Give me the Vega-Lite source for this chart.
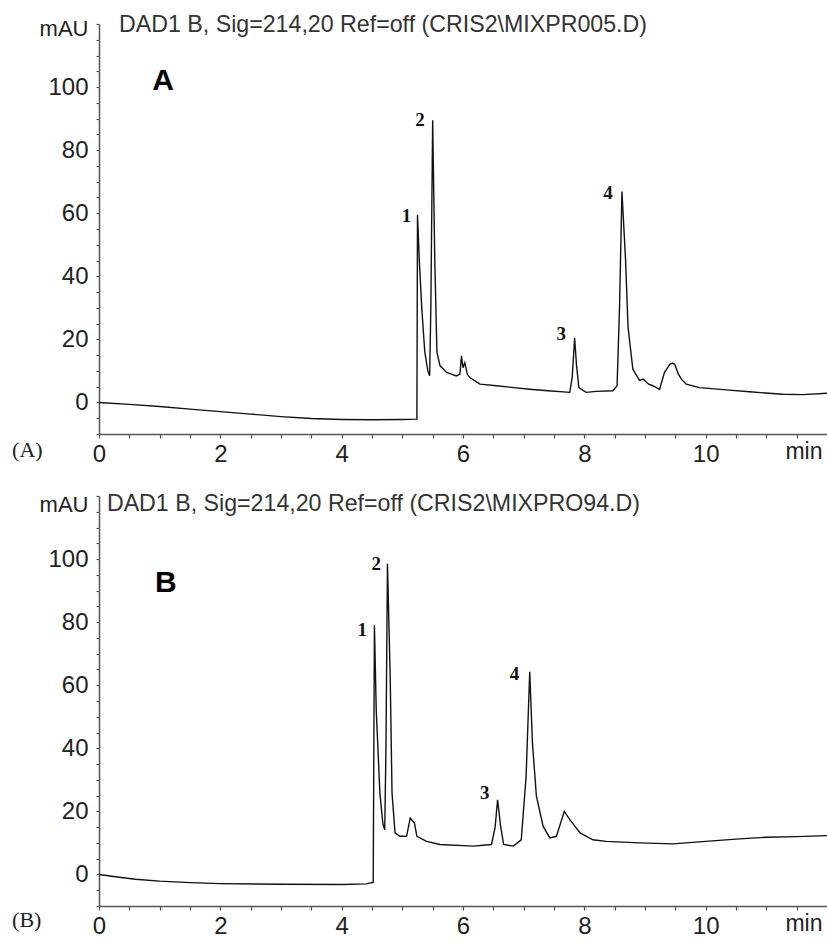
{
  "$schema": "https://vega.github.io/schema/vega-lite/v6.json",
  "padding": {"left": 12, "top": 12, "right": 0, "bottom": 0},
  "background": "white",
  "config": {
    "view": {"stroke": null},
    "font": "Liberation Sans",
    "axis": {
      "grid": false,
      "domainColor": "#555",
      "domainWidth": 1.5,
      "tickColor": "#555",
      "tickWidth": 1.2,
      "tickSize": 3,
      "labelFont": "Liberation Sans",
      "labelFontSize": 24,
      "labelColor": "#222",
      "labelOverlap": false,
      "labelFlush": false,
      "titleFont": "Liberation Sans",
      "titleFontSize": 22,
      "titleFontWeight": "normal",
      "titleColor": "#222"
    }
  },
  "vconcat": [
    {
      "width": 728,
      "height": 410,
      "encoding": {
        "x": {"field": "t", "type": "quantitative",
          "scale": {"domain": [0, 12], "nice": false, "zero": false},
          "axis": {
            "values": [0,0.5,1,1.5,2,2.5,3,3.5,4,4.5,5,5.5,6,6.5,7,7.5,8,8.5,9,9.5,10,10.5,11,11.5,12],
            "labelExpr": "indexof([0,2,4,6,8,10], datum.value) >= 0 ? format(datum.value, 'd') : ''",
            "tickSize": 4, "labelPadding": 4, "labelBaseline": "top",
            "title": "min", "titleX": 723, "titleY": 17, "titleAlign": "right", "titleBaseline": "middle", "titleFontSize": 23
          }
        },
        "y": {"field": "v", "type": "quantitative",
          "scale": {"domain": [-10, 120], "nice": false, "zero": false},
          "axis": {
            "values": [-10,-5,0,5,10,15,20,25,30,35,40,45,50,55,60,65,70,75,80,85,90,95,100,105,110,115,120],
            "labelExpr": "indexof([0,20,40,60,80,100], datum.value) >= 0 ? format(datum.value, 'd') : ''",
            "labelPadding": 8, "labelOverlap": false,
            "title": "mAU", "titleAngle": 0, "titleX": -11, "titleY": 4, "titleAlign": "right", "titleBaseline": "middle"
          }
        }
      },
      "layer": [
        {
          "data": {"values": [
            {"t": 0, "v": 0}, {"t": 0.5, "v": -0.6}, {"t": 1, "v": -1.3}, {"t": 1.5, "v": -2.1}, {"t": 2, "v": -2.9},
            {"t": 2.5, "v": -3.7}, {"t": 3, "v": -4.5}, {"t": 3.5, "v": -5.1}, {"t": 4, "v": -5.4}, {"t": 4.5, "v": -5.5},
            {"t": 5.0, "v": -5.4}, {"t": 5.24, "v": -5.3}, {"t": 5.25, "v": 59.5}, {"t": 5.28, "v": 45}, {"t": 5.32, "v": 30},
            {"t": 5.37, "v": 16}, {"t": 5.42, "v": 10}, {"t": 5.45, "v": 8.5}, {"t": 5.47, "v": 30}, {"t": 5.5, "v": 89.5},
            {"t": 5.535, "v": 45}, {"t": 5.57, "v": 16}, {"t": 5.62, "v": 11.7}, {"t": 5.73, "v": 9.5}, {"t": 5.89, "v": 8.4},
            {"t": 5.95, "v": 9}, {"t": 5.975, "v": 14.8}, {"t": 6.0, "v": 11}, {"t": 6.03, "v": 12.6}, {"t": 6.07, "v": 9},
            {"t": 6.11, "v": 7.9}, {"t": 6.28, "v": 5.8}, {"t": 6.55, "v": 5.3}, {"t": 6.8, "v": 4.8}, {"t": 7.1, "v": 4.2},
            {"t": 7.4, "v": 3.7}, {"t": 7.76, "v": 3.2}, {"t": 7.8, "v": 8}, {"t": 7.84, "v": 20.5}, {"t": 7.87, "v": 12},
            {"t": 7.91, "v": 4.7}, {"t": 8.03, "v": 3.2}, {"t": 8.2, "v": 3.5}, {"t": 8.47, "v": 3.7}, {"t": 8.54, "v": 5.3},
            {"t": 8.58, "v": 30}, {"t": 8.62, "v": 66.9}, {"t": 8.68, "v": 45}, {"t": 8.72, "v": 24}, {"t": 8.8, "v": 10.5},
            {"t": 8.91, "v": 7}, {"t": 8.97, "v": 7.4}, {"t": 9.06, "v": 5.8}, {"t": 9.13, "v": 5.3}, {"t": 9.24, "v": 4.1},
            {"t": 9.32, "v": 9.5}, {"t": 9.41, "v": 12.1}, {"t": 9.45, "v": 12.5}, {"t": 9.49, "v": 12.1}, {"t": 9.55, "v": 9},
            {"t": 9.6, "v": 7.4}, {"t": 9.68, "v": 5.8}, {"t": 9.9, "v": 4.7}, {"t": 10.34, "v": 4}, {"t": 10.72, "v": 3.4},
            {"t": 11.27, "v": 2.6}, {"t": 11.6, "v": 2.5}, {"t": 12, "v": 2.9}
          ]},
          "mark": {"type": "line", "color": "#111", "strokeWidth": 1.4}
        },
        {
          "data": {"values": [{"t": 0.33, "v": 119.7, "text": "DAD1 B, Sig=214,20 Ref=off (CRIS2\\MIXPR005.D)"}]},
          "mark": {"type": "text", "align": "left", "baseline": "middle", "fontSize": 23.2, "font": "Liberation Sans", "color": "#333"},
          "encoding": {"text": {"field": "text"}}
        },
        {
          "data": {"values": [{"t": 1.055, "v": 101.9, "text": "A"}]},
          "mark": {"type": "text", "align": "center", "baseline": "middle", "fontSize": 30, "fontWeight": "bold", "font": "Liberation Sans", "color": "#000"},
          "encoding": {"text": {"field": "text"}}
        },
        {
          "data": {"values": [
            {"t": 5.07, "v": 59, "text": "1"}, {"t": 5.29, "v": 89.5, "text": "2"},
            {"t": 7.62, "v": 21.6, "text": "3"}, {"t": 8.39, "v": 66.4, "text": "4"}
          ]},
          "mark": {"type": "text", "align": "center", "baseline": "middle", "fontSize": 19, "fontWeight": "bold", "font": "Liberation Serif", "color": "#111"},
          "encoding": {"text": {"field": "text"}}
        },
        {
          "data": {"values": [{"t": -1.433, "v": -15.1, "text": "(A)"}]},
          "mark": {"type": "text", "align": "left", "baseline": "middle", "fontSize": 22, "font": "Liberation Serif", "color": "#222"},
          "encoding": {"text": {"field": "text"}}
        }
      ]
    },
    {
      "width": 728,
      "height": 410,
      "encoding": {
        "x": {"field": "t", "type": "quantitative",
          "scale": {"domain": [0, 12], "nice": false, "zero": false},
          "axis": {
            "values": [0,0.5,1,1.5,2,2.5,3,3.5,4,4.5,5,5.5,6,6.5,7,7.5,8,8.5,9,9.5,10,10.5,11,11.5,12],
            "labelExpr": "indexof([0,2,4,6,8,10], datum.value) >= 0 ? format(datum.value, 'd') : ''",
            "tickSize": 4, "labelPadding": 4, "labelBaseline": "top",
            "title": "min", "titleX": 723, "titleY": 17, "titleAlign": "right", "titleBaseline": "middle", "titleFontSize": 23
          }
        },
        "y": {"field": "v", "type": "quantitative",
          "scale": {"domain": [-10, 120], "nice": false, "zero": false},
          "axis": {
            "values": [-10,-5,0,5,10,15,20,25,30,35,40,45,50,55,60,65,70,75,80,85,90,95,100,105,110,115,120],
            "labelExpr": "indexof([0,20,40,60,80,100], datum.value) >= 0 ? format(datum.value, 'd') : ''",
            "labelPadding": 8, "labelOverlap": false,
            "title": "mAU", "titleAngle": 0, "titleX": -11, "titleY": 8, "titleAlign": "right", "titleBaseline": "middle"
          }
        }
      },
      "layer": [
        {
          "data": {"values": [
            {"t": 0, "v": 0}, {"t": 0.3, "v": -0.8}, {"t": 0.6, "v": -1.5}, {"t": 1.0, "v": -2.1}, {"t": 1.5, "v": -2.6},
            {"t": 2, "v": -2.9}, {"t": 3, "v": -3.1}, {"t": 4, "v": -3.2}, {"t": 4.4, "v": -3.0}, {"t": 4.52, "v": -2.5},
            {"t": 4.54, "v": 79}, {"t": 4.57, "v": 52}, {"t": 4.63, "v": 25.8}, {"t": 4.68, "v": 16}, {"t": 4.71, "v": 14.2},
            {"t": 4.73, "v": 40}, {"t": 4.755, "v": 98.5}, {"t": 4.8, "v": 62.8}, {"t": 4.83, "v": 25.8}, {"t": 4.88, "v": 13.2},
            {"t": 4.96, "v": 12.1}, {"t": 5.07, "v": 12.1}, {"t": 5.1, "v": 15}, {"t": 5.13, "v": 17.9}, {"t": 5.2, "v": 16.3},
            {"t": 5.24, "v": 12.1}, {"t": 5.4, "v": 10.5}, {"t": 5.62, "v": 9.5}, {"t": 6.17, "v": 9}, {"t": 6.47, "v": 9.5},
            {"t": 6.53, "v": 15}, {"t": 6.57, "v": 23.7}, {"t": 6.62, "v": 15.3}, {"t": 6.67, "v": 9.5}, {"t": 6.83, "v": 9},
            {"t": 6.96, "v": 11}, {"t": 7.04, "v": 31}, {"t": 7.1, "v": 64.3}, {"t": 7.145, "v": 41.6}, {"t": 7.21, "v": 24.8},
            {"t": 7.32, "v": 15.3}, {"t": 7.43, "v": 11.6}, {"t": 7.54, "v": 12.1}, {"t": 7.62, "v": 17}, {"t": 7.67, "v": 20},
            {"t": 7.76, "v": 17.4}, {"t": 7.93, "v": 13.2}, {"t": 8.14, "v": 11}, {"t": 8.36, "v": 10.5}, {"t": 8.91, "v": 10},
            {"t": 9.46, "v": 9.7}, {"t": 10, "v": 10.5}, {"t": 10.5, "v": 11.2}, {"t": 11, "v": 11.8}, {"t": 11.5, "v": 12},
            {"t": 12, "v": 12.3}
          ]},
          "mark": {"type": "line", "color": "#111", "strokeWidth": 1.4}
        },
        {
          "data": {"values": [{"t": 0.13, "v": 117.5, "text": "DAD1 B, Sig=214,20 Ref=off (CRIS2\\MIXPRO94.D)"}]},
          "mark": {"type": "text", "align": "left", "baseline": "middle", "fontSize": 23.2, "font": "Liberation Sans", "color": "#333"},
          "encoding": {"text": {"field": "text"}}
        },
        {
          "data": {"values": [{"t": 1.1, "v": 92.4, "text": "B"}]},
          "mark": {"type": "text", "align": "center", "baseline": "middle", "fontSize": 30, "fontWeight": "bold", "font": "Liberation Sans", "color": "#000"},
          "encoding": {"text": {"field": "text"}}
        },
        {
          "data": {"values": [
            {"t": 4.34, "v": 77.4, "text": "1"}, {"t": 4.57, "v": 98.5, "text": "2"},
            {"t": 6.36, "v": 25.8, "text": "3"}, {"t": 6.85, "v": 63.7, "text": "4"}
          ]},
          "mark": {"type": "text", "align": "center", "baseline": "middle", "fontSize": 19, "fontWeight": "bold", "font": "Liberation Serif", "color": "#111"},
          "encoding": {"text": {"field": "text"}}
        },
        {
          "data": {"values": [{"t": -1.433, "v": -14.4, "text": "(B)"}]},
          "mark": {"type": "text", "align": "left", "baseline": "middle", "fontSize": 22, "font": "Liberation Serif", "color": "#222"},
          "encoding": {"text": {"field": "text"}}
        }
      ]
    }
  ],
  "spacing": 62,
  "bounds": "flush"
}
